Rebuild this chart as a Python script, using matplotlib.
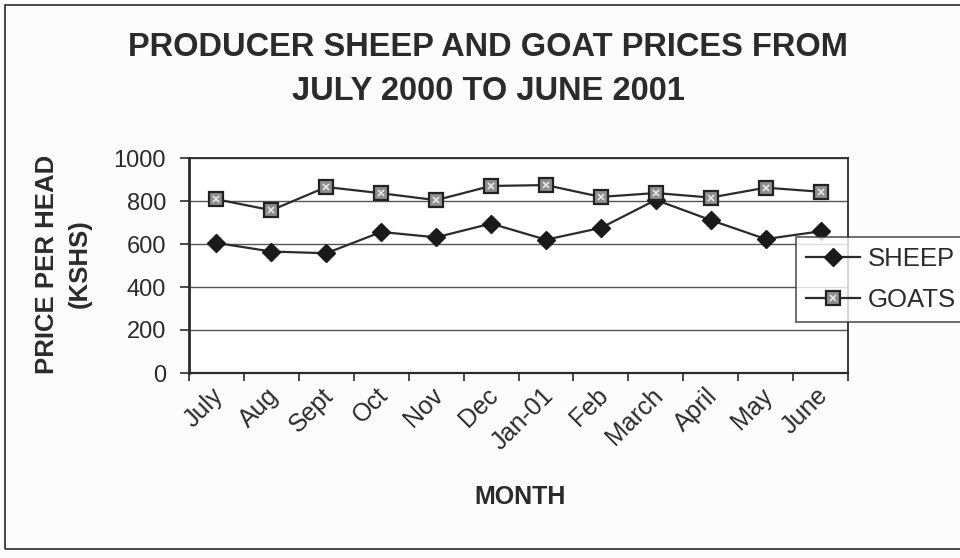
import matplotlib
matplotlib.use("Agg")
import matplotlib.pyplot as plt
import matplotlib.transforms as mtransforms
from matplotlib.patches import Rectangle
from matplotlib.legend_handler import HandlerTuple

months = ["July", "Aug", "Sept", "Oct", "Nov", "Dec", "Jan-01",
          "Feb", "March", "April", "May", "June"]
sheep = [605, 565, 557, 656, 631, 695, 620, 675, 805, 711, 623, 659]
goats = [808, 757, 865, 836, 804, 870, 874, 819, 837, 816, 862, 843]
y_ticks = [0, 200, 400, 600, 800, 1000]

plt.rcParams['font.family'] = ['Liberation Sans', 'DejaVu Sans']
ink = '#2b2b2b'

fig = plt.figure(figsize=(9.6, 5.58), dpi=100)
fig.patch.set_facecolor('#fcfcfc')

# frame round the whole chart (runs off the right edge like the scan)
fig.add_artist(Rectangle((5 / 960, 1 - 549 / 558), 1.2, (549 - 5) / 558,
                         transform=fig.transFigure, fill=False,
                         edgecolor=ink, linewidth=1.2, clip_on=False))

ax = fig.add_axes([189 / 960, 1 - 373 / 558, (848 - 189) / 960, (373 - 158) / 558])
ax.set_facecolor('white')

x = list(range(len(months)))
l_sheep, = ax.plot(x, sheep, color=ink, lw=1.6, marker='D', markersize=9,
                   markerfacecolor='#1a1a1a', markeredgecolor='#1a1a1a')
l_goats, = ax.plot(x, goats, color=ink, lw=1.6, marker='s', markersize=9.5,
                   markerfacecolor='#8f8f8f', markeredgecolor='#222222',
                   markeredgewidth=1.6)
# light speckle inside the goat squares
l_dots, = ax.plot(x, goats, linestyle='none', marker='x', markersize=4,
                  markeredgewidth=1.1, color='#eeeeee')

ax.set_xlim(-0.5, len(months) - 0.5)
ax.set_ylim(0, 1000)
ax.set_yticks(y_ticks)
ax.set_yticklabels([str(v) for v in y_ticks], fontsize=17, color=ink)
for v in y_ticks[1:]:
    ax.axhline(v, color='#555555', lw=1.0, zorder=0)

# category labels at centres, tick marks at the boundaries
ax.set_xticks(x)
ax.set_xticklabels(months, rotation=45, ha='right', rotation_mode='anchor',
                   fontsize=18, color=ink)
ax.tick_params(axis='x', which='major', length=0, pad=7.5)
shift = mtransforms.ScaledTranslation(-0.05, 0, fig.dpi_scale_trans)
for lab in ax.get_xticklabels():
    lab.set_transform(lab.get_transform() + shift)
ax.set_xticks([i - 0.5 for i in range(len(months) + 1)], minor=True)
ax.tick_params(axis='x', which='minor', length=6, width=1.2, color=ink, direction='out')
ax.tick_params(axis='y', length=6.5, width=1.2, color=ink, direction='out', pad=10)

for s in ax.spines.values():
    s.set_color(ink)
    s.set_linewidth(1.3)
ax.spines['left'].set_linewidth(2)
ax.spines['bottom'].set_linewidth(1.6)

fig.text(488 / 960, 1 - 48 / 558, "PRODUCER SHEEP AND GOAT PRICES FROM",
         ha='center', va='center', fontsize=23.5, fontweight='bold', color=ink)
fig.text(488 / 960, 1 - 92 / 558, "JULY 2000 TO JUNE 2001",
         ha='center', va='center', fontsize=23.5, fontweight='bold', color=ink)
fig.text(47 / 960, 1 - 264 / 558, "PRICE PER HEAD", rotation=90,
         ha='center', va='center', fontsize=18.5, fontweight='bold', color=ink)
fig.text(80 / 960, 1 - 264 / 558, "(KSHS)", rotation=90,
         ha='center', va='center', fontsize=18.5, fontweight='bold', color=ink)
fig.text(520 / 960, 1 - 497 / 558, "MONTH", ha='center', va='center',
         fontsize=18, fontweight='bold', color=ink)

leg = fig.legend([l_sheep, (l_goats, l_dots)], ['SHEEP', 'GOATS'],
                 handler_map={tuple: HandlerTuple(ndivide=1)},
                 loc='upper left', bbox_to_anchor=(796 / 960, 1 - 237 / 558),
                 fontsize=18.5, frameon=True, fancybox=False, handlelength=2.1,
                 labelspacing=0.65, borderpad=0.4, handletextpad=0.3,
                 borderaxespad=0)
leg.get_frame().set_edgecolor(ink)
leg.get_frame().set_linewidth(1.2)
for t in leg.get_texts():
    t.set_color(ink)

fig.savefig("out.png", dpi=100, facecolor=fig.get_facecolor())
